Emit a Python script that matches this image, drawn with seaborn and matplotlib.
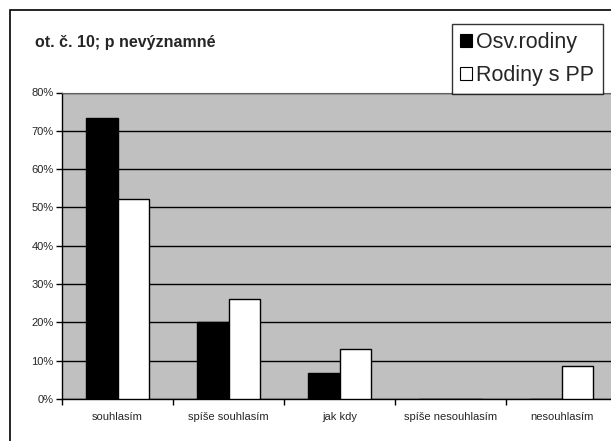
import matplotlib
matplotlib.use("Agg")
import matplotlib.pyplot as plt
import matplotlib.patches as mpatches
from matplotlib.ticker import FixedLocator, PercentFormatter
import seaborn as sns
import pandas as pd

# Dados
categorias = ["souhlasím", "spíše souhlasím", "jak kdy", "spíše nesouhlasím", "nesouhlasím"]
osv_rodiny = [73.3, 20.0, 6.7, 0.0, 0.0]
rodiny_pp = [52.2, 26.1, 13.0, 0.0, 8.7]
series = ["Osv.rodiny", "Rodiny s PP"]
y_ticks = [0, 10, 20, 30, 40, 50, 60, 70, 80]

df = pd.DataFrame({
    "kategorie": categorias * 2,
    "serie": [series[0]] * len(categorias) + [series[1]] * len(categorias),
    "hodnota": osv_rodiny + rodiny_pp,
})

sns.set_style("white")
plt.rcParams["font.family"] = ["Liberation Sans", "DejaVu Sans"]

fig = plt.figure(figsize=(6.11, 4.41), dpi=100)
W, H = 611, 441
ax = fig.add_axes([62 / W, 42 / H, 555 / W, 306.5 / H])
ax.set_facecolor("#C0C0C0")

sns.barplot(data=df, x="kategorie", y="hodnota", hue="serie", order=categorias,
            hue_order=series, palette=["black", "white"], width=0.571,
            edgecolor="black", linewidth=1, saturation=1, ax=ax, legend=False, zorder=3)

ax.set_xlim(-0.5, 4.5)
ax.set_ylim(0, 80)
ax.set_yticks(y_ticks)
ax.yaxis.set_major_formatter(PercentFormatter(decimals=0))
ax.set_xlabel("")
ax.set_ylabel("")
ax.grid(axis="y", color="black", linewidth=1, zorder=0)
ax.set_axisbelow(True)

ax.tick_params(axis="y", which="major", direction="out", length=4, width=1,
               color="black", labelsize=8, pad=2, left=True)
ax.tick_params(axis="x", which="major", length=0, labelsize=8, pad=9)
ax.xaxis.set_minor_locator(FixedLocator([-0.5, 0.5, 1.5, 2.5, 3.5, 4.5]))
ax.tick_params(axis="x", which="minor", direction="out", length=4, width=1,
               color="black", bottom=True)

for side in ["left", "bottom"]:
    ax.spines[side].set_color("black")
    ax.spines[side].set_linewidth(1)
ax.spines["top"].set_color("#606060")
ax.spines["right"].set_visible(False)

# Titulo
fig.text(35 / W, 1 - 43 / H, "ot. č. 10; p nevýznamné", fontsize=11.5,
         fontweight="bold", ha="left", va="center")

# Legenda
handles = [mpatches.Patch(facecolor="black", edgecolor="black", linewidth=0.8),
           mpatches.Patch(facecolor="white", edgecolor="black", linewidth=0.8)]
leg = ax.legend(handles, series, loc="upper left",
                bbox_to_anchor=(452 / W, 1 - 24 / H), bbox_transform=fig.transFigure,
                fontsize=15.5, frameon=True, fancybox=False, handlelength=0.55,
                handleheight=0.55, handletextpad=0.2, borderpad=0.38,
                labelspacing=0.55, borderaxespad=0)
leg.get_frame().set_edgecolor("black")
leg.get_frame().set_linewidth(1)

# Moldura externa
fig.patches.append(mpatches.Rectangle((10 / W, -0.1), 1.2, 1 - 10 / H + 0.1,
                                      transform=fig.transFigure, fill=False,
                                      edgecolor="black", linewidth=1.2))

fig.savefig("out.png", dpi=100)
